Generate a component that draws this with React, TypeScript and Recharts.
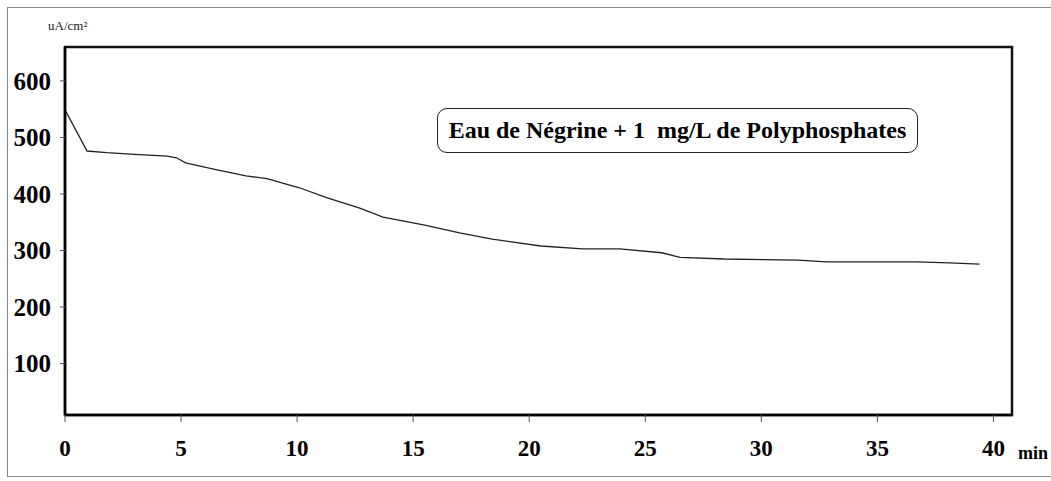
import { LineChart, Line, XAxis, YAxis, ReferenceArea } from 'recharts';

const times = [0, 0.95, 1.8, 3.0, 4.4, 4.8, 5.2, 6.5, 7.8, 8.7, 10.1, 11.3, 12.7, 13.7, 15.5, 17.0, 18.4, 20.5, 22.3, 23.9, 25.7, 26.5, 28.4, 31.6, 32.8, 35.0, 36.7, 38.1, 39.4];
const current = [549, 476, 473, 470, 467, 464, 455, 443, 432, 427, 411, 393, 375, 359, 345, 331, 320, 308, 303, 303, 296, 288, 285, 283, 280, 280, 280, 278, 276];

const xTicks = [0, 5, 10, 15, 20, 25, 30, 35, 40];
const yTicks = [100, 200, 300, 400, 500, 600];

const unitLabel = 'uA/cm²';
const xUnit = 'min';
const legendText = 'Eau de Négrine + 1  mg/L de Polyphosphates';

const chartData = times.map((t, i) => ({ t, value: current[i] }));

const serif = 'Times New Roman, Liberation Serif, serif';

export default function App() {
  return (
    <div style={{ position: 'absolute', left: 0, top: 0, width: 1051, height: 481, background: '#fff', overflow: 'hidden', fontFamily: serif }}>
      <div style={{ position: 'absolute', left: 7, top: 7, width: 1050, height: 470, border: '1px solid #888', boxSizing: 'border-box' }} />
      <LineChart width={1051} height={481} data={chartData} margin={{ top: 47, right: 39, bottom: 26, left: 0 }}>
        <XAxis
          dataKey="t"
          type="number"
          domain={[0, 40.8]}
          ticks={xTicks}
          allowDataOverflow
          height={40}
          axisLine={{ stroke: '#000', strokeWidth: 2.5 }}
          tickLine={{ stroke: '#555' }}
          tickSize={7}
          tickMargin={18}
          tick={{ fontSize: 23, fontWeight: 'bold', fill: '#000', fontFamily: serif }}
        />
        <YAxis
          type="number"
          domain={[9, 660]}
          ticks={yTicks}
          allowDataOverflow
          width={65}
          axisLine={{ stroke: '#000', strokeWidth: 2.5 }}
          tickLine={{ stroke: '#555' }}
          tickSize={5}
          tickMargin={9}
          tick={{ fontSize: 25, fontWeight: 'bold', fill: '#000', fontFamily: serif }}
        />
        <ReferenceArea x1={0} x2={40.8} y1={9} y2={660} fill="none" stroke="#111" strokeWidth={2.5} ifOverflow="visible" />
        <Line type="linear" dataKey="value" stroke="#222" strokeWidth={1.3} dot={false} isAnimationActive={false} />
      </LineChart>
      <div style={{ position: 'absolute', left: 48, top: 18, fontSize: 13, color: '#222' }}>{unitLabel}</div>
      <div style={{ position: 'absolute', left: 1018, top: 443, fontSize: 18, fontWeight: 'bold', color: '#000' }}>{xUnit}</div>
      <div
        style={{
          position: 'absolute',
          left: 437,
          top: 108,
          width: 481,
          height: 45,
          border: '1.5px solid #222',
          borderRadius: 10,
          boxSizing: 'border-box',
          display: 'flex',
          alignItems: 'center',
          justifyContent: 'center',
          fontSize: 24,
          fontWeight: 'bold',
          whiteSpace: 'pre',
          color: '#000',
        }}
      >
        {legendText}
      </div>
    </div>
  );
}
